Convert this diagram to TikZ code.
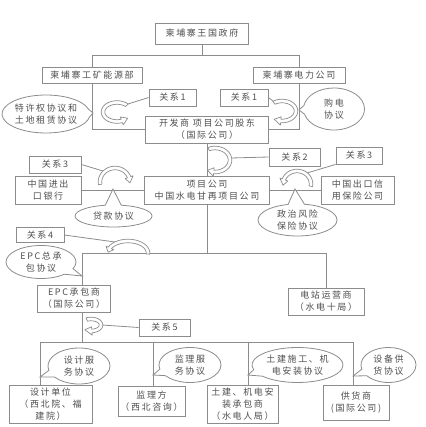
\documentclass[tikz,border=0pt]{standalone}
\usepackage{fontspec}
\usepackage{xcolor}
\usetikzlibrary{shapes.geometric,shapes.callouts}

\newfontfamily\cnfont{Noto Sans CJK SC}[LetterSpace=18]
\definecolor{linegray}{HTML}{8C8C8C}
\definecolor{txtgray}{HTML}{4F4F4F}

\tikzset{
  ln/.style={draw=linegray, line width=0.8pt},
  sz/.style 2 args={minimum width=#1pt, minimum height=#2pt},
  box/.style={draw=linegray, line width=0.8pt, fill=white, text=txtgray,
    align=center, inner sep=1pt, font=\cnfont\fontsize{9}{12}\selectfont},
  bubble/.style={ellipse callout, draw=linegray, line width=0.8pt, fill=white,
    text=txtgray, align=center, inner sep=0pt, callout pointer arc=24,
    font=\cnfont\fontsize{9}{12}\selectfont},
  relband/.style={draw=linegray, line width=0.7pt, fill=white, line join=round},
}

% hollow curved arrow: centre x, centre y, x radius, y radius, from, to
\newcommand{\relarc}[6]{%
  \pgfmathsetmacro{\rtip}{#6+((#6>#5)?1:-1)*688/(#3+#4)}%
  \begin{scope}[shift={(#1,#2)}]
    \draw[relband] plot[domain=#5:#6, samples=30] ({(#3+1.8)*cos(\x)},{(#4+1.8)*sin(\x)})
      -- ({(#3+4.2)*cos(#6)},{(#4+4.2)*sin(#6)})
      -- ({#3*cos(\rtip)},{#4*sin(\rtip)})
      -- ({(#3-4.2)*cos(#6)},{(#4-4.2)*sin(#6)})
      -- plot[domain=#6:#5, samples=30] ({(#3-1.8)*cos(\x)},{(#4-1.8)*sin(\x)})
      -- cycle;
  \end{scope}}

\begin{document}
\begin{tikzpicture}[x=1pt, y=-1pt]
  \useasboundingbox (0,0) rectangle (425,427);

  % parties
  \node[box, sz={93}{21}] (gov) at (202,33.5) {柬埔寨王国政府};
  \node[box, sz={100}{16}] (mine) at (92,75) {柬埔寨工矿能源部};
  \node[box, sz={92}{16}] (power) at (299,75) {柬埔寨电力公司};
  \node[box, sz={123}{27}] (dev) at (207,129.5) {开发商 项目公司股东\\（国际公司）};
  \node[box, sz={125}{28}] (proj) at (207,190) {项目公司\\中国水电甘再项目公司};
  \node[box, sz={66}{28}] (bank) at (48,190) {中国进出\\口银行};
  \node[box, sz={73}{28}] (sinosure) at (357.5,190) {中国出口信\\用保险公司};
  \node[box, sz={73}{27}] (epc) at (74,298.5) {EPC承包商\\（国际公司）};
  \node[box, sz={76}{27}] (oper) at (326,301.5) {电站运营商\\（水电十局）};
  \node[box, sz={83}{38}] (design) at (50.5,404) {设计单位\\（西北院、福\\建院）};
  \node[box, sz={67}{30}] (super) at (151.5,401) {监理方\\（西北咨询）};
  \node[box, sz={71}{38}] (civil) at (242.5,404) {土建、机电安\\装承包商\\（水电人局）};
  \node[box, sz={66}{35}] (supplier) at (356,402.5) {供货商\\(国际公司)};

  % relation labels
  \node[box, sz={47}{17}] (rel1a) at (172.5,97.5) {关系1};
  \node[box, sz={48}{17}] (rel1b) at (244,97.5) {关系1};
  \node[box, sz={51}{18}] (rel2) at (294.5,157) {关系2};
  \node[box, sz={52}{17}] (rel3a) at (55,164.5) {关系3};
  \node[box, sz={46}{17}] (rel3b) at (359,155.5) {关系3};
  \node[box, sz={48}{15}] (rel4) at (40,235) {关系4};
  \node[box, sz={51}{17}] (rel5) at (164.5,327.5) {关系5};

  % tree lines
  \coordinate (gl) at (92,55);
  \coordinate (gr) at (299,55);
  \draw[ln] (gov.south) -- (gov.south |- gl);
  \draw[ln] (gl) -- (gr);
  \draw[ln] (gl) -- (mine.north);
  \draw[ln] (gr) -- (power.north);
  \draw[ln] (mine.south) |- (dev.west);
  \draw[ln] (power.south) |- (dev.east);
  \draw[ln] (dev.south) -- (proj.north);
  \draw[ln] (bank.east) -- (proj.west);
  \draw[ln] (sinosure.west) -- (proj.east);

  \coordinate (tl) at (82,253);
  \coordinate (tr) at (326,253);
  \draw[ln] (proj.south) -- (proj.south |- tl);
  \draw[ln] (tl |- epc.north) -- (tl) -- (tr) -- (oper.north);

  \coordinate (eb) at (82,342);
  \coordinate (b1) at (40,342);
  \coordinate (b2) at (153,342);
  \coordinate (b3) at (248,342);
  \coordinate (b4) at (353,342);
  \draw[ln] (eb |- epc.south) -- (eb);
  \draw[ln] (b1) -- (b4);
  \draw[ln] (b1) -- (b1 |- design.north);
  \draw[ln] (b2) -- (b2 |- super.north);
  \draw[ln] (b3) -- (b3 |- civil.north);
  \draw[ln] (b4) -- (b4 |- supplier.north);

  % agreements
  \coordinate (pconc) at (93,113);
  \coordinate (pppa) at (299,110);
  \coordinate (ploan) at (113,189);
  \coordinate (ppri) at (295,189);
  \coordinate (pepc) at (82,276);
  \coordinate (pdsvc) at (40,377);
  \coordinate (pssvc) at (153,375);
  \coordinate (pcsvc) at (248,375);
  \coordinate (pesvc) at (353,376);
  \node[bubble, sz={88}{38}, callout absolute pointer={(pconc)}] (conc) at (46,114) {特许权协议和\\土地租赁协议};
  \node[bubble, sz={61}{42}, callout absolute pointer={(pppa)}] (ppa) at (334,109) {购电\\协议};
  \node[bubble, sz={77}{22}, callout absolute pointer={(ploan)}] (loan) at (113.5,216) {贷款协议};
  \node[bubble, sz={79}{32}, callout absolute pointer={(ppri)}] (pri) at (297.5,220) {政治风险\\保险协议};
  \node[bubble, sz={70}{33}, callout absolute pointer={(pepc)}] (epca) at (41,262) {EPC总承\\包协议};
  \node[bubble, sz={62}{36}, callout absolute pointer={(pdsvc)}] (dsvc) at (79,366) {设计服\\务协议};
  \node[bubble, sz={62}{35}, callout absolute pointer={(pssvc)}] (ssvc) at (190,365) {监理服\\务协议};
  \node[bubble, sz={91}{35}, callout absolute pointer={(pcsvc)}] (csvc) at (297.5,365) {土建施工、机\\电安装协议};
  \node[bubble, sz={55}{35}, callout absolute pointer={(pesvc)}] (esvc) at (388.5,365) {设备供\\货协议};

  % relation arrows
  \coordinate (c1a) at (128,104);
  \coordinate (c1b) at (273,101);
  \coordinate (c2) at (231,158);
  \coordinate (c3a) at (103,171);
  \coordinate (c3b) at (307,173);
  \coordinate (c4) at (115,242);
  \coordinate (c5) at (102,325);
  \draw[ln] (rel1a.west) -- (c1a);
  \draw[ln] (rel1b.east) -- (c1b);
  \draw[ln] (c2) -- (rel2.west);
  \draw[ln] (rel3a.east) -- (c3a);
  \draw[ln] (rel3b.south west) -- (c3b);
  \draw[ln] (rel4.east) -- (c4);
  \draw[ln] (c5) -- (rel5.west);

  \relarc{117}{112}{14}{9.5}{-45}{-290}
  \relarc{282}{111}{14}{10}{-125}{95}
  \relarc{215}{160}{15}{12}{-115}{95}
  \relarc{115}{182}{15}{14}{170}{340}
  \relarc{297}{184}{14}{13}{10}{-160}
  \relarc{128}{253}{20}{12}{5}{-155}
  \relarc{91}{325}{10}{6}{-115}{85}
\end{tikzpicture}
\end{document}
